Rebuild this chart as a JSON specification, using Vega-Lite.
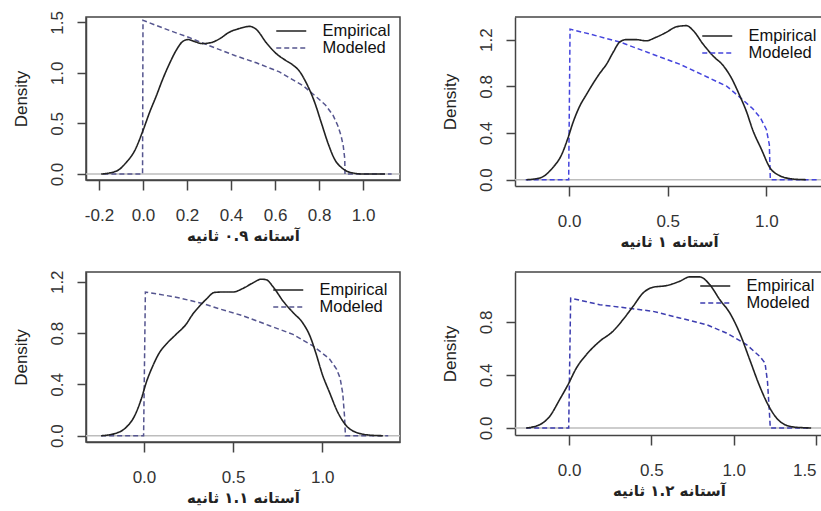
{
  "$schema": "https://vega.github.io/schema/vega-lite/v6.json",
  "background": "white",
  "padding": {"left": 11, "top": 9, "right": 0, "bottom": 0},
  "columns": 2,
  "align": "none",
  "bounds": "flush",
  "spacing": {"column": 115, "row": 86},
  "resolve": {"scale": {"color": "independent", "strokeDash": "independent"}},
  "datasets": {
    "p1": [
      {"type": "Empirical", "x": -0.19, "y": 0}, {"type": "Empirical", "x": -0.12, "y": 0.03}, {"type": "Empirical", "x": -0.076, "y": 0.115}, {"type": "Empirical", "x": -0.038, "y": 0.23}, {"type": "Empirical", "x": 0, "y": 0.43}, {"type": "Empirical", "x": 0.03, "y": 0.61}, {"type": "Empirical", "x": 0.06, "y": 0.77}, {"type": "Empirical", "x": 0.09, "y": 0.94}, {"type": "Empirical", "x": 0.12, "y": 1.09}, {"type": "Empirical", "x": 0.15, "y": 1.22}, {"type": "Empirical", "x": 0.18, "y": 1.31}, {"type": "Empirical", "x": 0.205, "y": 1.33}, {"type": "Empirical", "x": 0.235, "y": 1.31}, {"type": "Empirical", "x": 0.27, "y": 1.29}, {"type": "Empirical", "x": 0.31, "y": 1.3}, {"type": "Empirical", "x": 0.35, "y": 1.34}, {"type": "Empirical", "x": 0.39, "y": 1.4}, {"type": "Empirical", "x": 0.44, "y": 1.44}, {"type": "Empirical", "x": 0.485, "y": 1.46}, {"type": "Empirical", "x": 0.515, "y": 1.43}, {"type": "Empirical", "x": 0.56, "y": 1.3}, {"type": "Empirical", "x": 0.606, "y": 1.19}, {"type": "Empirical", "x": 0.644, "y": 1.13}, {"type": "Empirical", "x": 0.68, "y": 1.08}, {"type": "Empirical", "x": 0.71, "y": 1.02}, {"type": "Empirical", "x": 0.74, "y": 0.91}, {"type": "Empirical", "x": 0.78, "y": 0.71}, {"type": "Empirical", "x": 0.81, "y": 0.51}, {"type": "Empirical", "x": 0.84, "y": 0.31}, {"type": "Empirical", "x": 0.87, "y": 0.15}, {"type": "Empirical", "x": 0.91, "y": 0.05}, {"type": "Empirical", "x": 0.955, "y": 0.01}, {"type": "Empirical", "x": 1.0, "y": 0}, {"type": "Empirical", "x": 1.1, "y": 0},
      {"type": "Modeled", "x": -0.18, "y": 0}, {"type": "Modeled", "x": -0.002, "y": 0}, {"type": "Modeled", "x": 0.0, "y": 1.52}, {"type": "Modeled", "x": 0.06, "y": 1.47}, {"type": "Modeled", "x": 0.12, "y": 1.42}, {"type": "Modeled", "x": 0.21, "y": 1.35}, {"type": "Modeled", "x": 0.3, "y": 1.27}, {"type": "Modeled", "x": 0.42, "y": 1.17}, {"type": "Modeled", "x": 0.515, "y": 1.1}, {"type": "Modeled", "x": 0.62, "y": 1.01}, {"type": "Modeled", "x": 0.73, "y": 0.87}, {"type": "Modeled", "x": 0.8, "y": 0.74}, {"type": "Modeled", "x": 0.83, "y": 0.68}, {"type": "Modeled", "x": 0.864, "y": 0.58}, {"type": "Modeled", "x": 0.885, "y": 0.48}, {"type": "Modeled", "x": 0.9, "y": 0.38}, {"type": "Modeled", "x": 0.91, "y": 0.28}, {"type": "Modeled", "x": 0.917, "y": 0.15}, {"type": "Modeled", "x": 0.918, "y": 0}, {"type": "Modeled", "x": 1.13, "y": 0}
    ],
    "p2": [
      {"type": "Empirical", "x": -0.216, "y": 0}, {"type": "Empirical", "x": -0.149, "y": 0.014}, {"type": "Empirical", "x": -0.081, "y": 0.106}, {"type": "Empirical", "x": -0.039, "y": 0.21}, {"type": "Empirical", "x": -0.005, "y": 0.36}, {"type": "Empirical", "x": 0.02, "y": 0.49}, {"type": "Empirical", "x": 0.054, "y": 0.63}, {"type": "Empirical", "x": 0.088, "y": 0.73}, {"type": "Empirical", "x": 0.12, "y": 0.82}, {"type": "Empirical", "x": 0.155, "y": 0.91}, {"type": "Empirical", "x": 0.19, "y": 0.99}, {"type": "Empirical", "x": 0.223, "y": 1.09}, {"type": "Empirical", "x": 0.257, "y": 1.18}, {"type": "Empirical", "x": 0.29, "y": 1.2}, {"type": "Empirical", "x": 0.34, "y": 1.2}, {"type": "Empirical", "x": 0.39, "y": 1.19}, {"type": "Empirical", "x": 0.44, "y": 1.22}, {"type": "Empirical", "x": 0.49, "y": 1.26}, {"type": "Empirical", "x": 0.544, "y": 1.31}, {"type": "Empirical", "x": 0.595, "y": 1.32}, {"type": "Empirical", "x": 0.628, "y": 1.28}, {"type": "Empirical", "x": 0.68, "y": 1.16}, {"type": "Empirical", "x": 0.73, "y": 1.06}, {"type": "Empirical", "x": 0.78, "y": 0.98}, {"type": "Empirical", "x": 0.82, "y": 0.88}, {"type": "Empirical", "x": 0.865, "y": 0.72}, {"type": "Empirical", "x": 0.9, "y": 0.58}, {"type": "Empirical", "x": 0.93, "y": 0.43}, {"type": "Empirical", "x": 0.975, "y": 0.26}, {"type": "Empirical", "x": 1.017, "y": 0.106}, {"type": "Empirical", "x": 1.068, "y": 0.034}, {"type": "Empirical", "x": 1.135, "y": 0.006}, {"type": "Empirical", "x": 1.2, "y": 0},
      {"type": "Modeled", "x": -0.22, "y": 0}, {"type": "Modeled", "x": -0.002, "y": 0}, {"type": "Modeled", "x": 0.005, "y": 1.29}, {"type": "Modeled", "x": 0.1, "y": 1.25}, {"type": "Modeled", "x": 0.257, "y": 1.18}, {"type": "Modeled", "x": 0.4, "y": 1.09}, {"type": "Modeled", "x": 0.56, "y": 0.99}, {"type": "Modeled", "x": 0.7, "y": 0.88}, {"type": "Modeled", "x": 0.8, "y": 0.8}, {"type": "Modeled", "x": 0.856, "y": 0.72}, {"type": "Modeled", "x": 0.93, "y": 0.61}, {"type": "Modeled", "x": 0.97, "y": 0.53}, {"type": "Modeled", "x": 1.0, "y": 0.43}, {"type": "Modeled", "x": 1.015, "y": 0.3}, {"type": "Modeled", "x": 1.02, "y": 0}, {"type": "Modeled", "x": 1.255, "y": 0}
    ],
    "p3": [
      {"type": "Empirical", "x": -0.24, "y": 0}, {"type": "Empirical", "x": -0.155, "y": 0.02}, {"type": "Empirical", "x": -0.1, "y": 0.065}, {"type": "Empirical", "x": -0.052, "y": 0.156}, {"type": "Empirical", "x": -0.015, "y": 0.286}, {"type": "Empirical", "x": 0.013, "y": 0.415}, {"type": "Empirical", "x": 0.05, "y": 0.545}, {"type": "Empirical", "x": 0.088, "y": 0.65}, {"type": "Empirical", "x": 0.125, "y": 0.714}, {"type": "Empirical", "x": 0.18, "y": 0.79}, {"type": "Empirical", "x": 0.237, "y": 0.87}, {"type": "Empirical", "x": 0.275, "y": 0.95}, {"type": "Empirical", "x": 0.312, "y": 1.01}, {"type": "Empirical", "x": 0.35, "y": 1.065}, {"type": "Empirical", "x": 0.396, "y": 1.117}, {"type": "Empirical", "x": 0.443, "y": 1.12}, {"type": "Empirical", "x": 0.5, "y": 1.12}, {"type": "Empirical", "x": 0.555, "y": 1.148}, {"type": "Empirical", "x": 0.61, "y": 1.19}, {"type": "Empirical", "x": 0.658, "y": 1.22}, {"type": "Empirical", "x": 0.686, "y": 1.216}, {"type": "Empirical", "x": 0.723, "y": 1.163}, {"type": "Empirical", "x": 0.78, "y": 1.05}, {"type": "Empirical", "x": 0.836, "y": 0.96}, {"type": "Empirical", "x": 0.89, "y": 0.88}, {"type": "Empirical", "x": 0.93, "y": 0.78}, {"type": "Empirical", "x": 0.966, "y": 0.636}, {"type": "Empirical", "x": 1.0, "y": 0.48}, {"type": "Empirical", "x": 1.04, "y": 0.34}, {"type": "Empirical", "x": 1.088, "y": 0.18}, {"type": "Empirical", "x": 1.135, "y": 0.078}, {"type": "Empirical", "x": 1.19, "y": 0.026}, {"type": "Empirical", "x": 1.265, "y": 0.005}, {"type": "Empirical", "x": 1.34, "y": 0},
      {"type": "Modeled", "x": -0.24, "y": 0}, {"type": "Modeled", "x": -0.002, "y": 0}, {"type": "Modeled", "x": 0.008, "y": 1.12}, {"type": "Modeled", "x": 0.18, "y": 1.08}, {"type": "Modeled", "x": 0.33, "y": 1.03}, {"type": "Modeled", "x": 0.42, "y": 0.99}, {"type": "Modeled", "x": 0.555, "y": 0.935}, {"type": "Modeled", "x": 0.705, "y": 0.857}, {"type": "Modeled", "x": 0.836, "y": 0.79}, {"type": "Modeled", "x": 0.948, "y": 0.7}, {"type": "Modeled", "x": 1.04, "y": 0.6}, {"type": "Modeled", "x": 1.08, "y": 0.52}, {"type": "Modeled", "x": 1.1, "y": 0.45}, {"type": "Modeled", "x": 1.115, "y": 0.33}, {"type": "Modeled", "x": 1.125, "y": 0.15}, {"type": "Modeled", "x": 1.13, "y": 0}, {"type": "Modeled", "x": 1.37, "y": 0}
    ],
    "p4": [
      {"type": "Empirical", "x": -0.26, "y": 0}, {"type": "Empirical", "x": -0.178, "y": 0.025}, {"type": "Empirical", "x": -0.117, "y": 0.088}, {"type": "Empirical", "x": -0.057, "y": 0.214}, {"type": "Empirical", "x": -0.006, "y": 0.327}, {"type": "Empirical", "x": 0.045, "y": 0.453}, {"type": "Empirical", "x": 0.105, "y": 0.553}, {"type": "Empirical", "x": 0.186, "y": 0.654}, {"type": "Empirical", "x": 0.267, "y": 0.73}, {"type": "Empirical", "x": 0.328, "y": 0.818}, {"type": "Empirical", "x": 0.389, "y": 0.918}, {"type": "Empirical", "x": 0.45, "y": 1.019}, {"type": "Empirical", "x": 0.51, "y": 1.062}, {"type": "Empirical", "x": 0.59, "y": 1.074}, {"type": "Empirical", "x": 0.672, "y": 1.107}, {"type": "Empirical", "x": 0.733, "y": 1.14}, {"type": "Empirical", "x": 0.794, "y": 1.14}, {"type": "Empirical", "x": 0.854, "y": 1.082}, {"type": "Empirical", "x": 0.915, "y": 0.969}, {"type": "Empirical", "x": 0.976, "y": 0.868}, {"type": "Empirical", "x": 1.036, "y": 0.717}, {"type": "Empirical", "x": 1.097, "y": 0.516}, {"type": "Empirical", "x": 1.158, "y": 0.314}, {"type": "Empirical", "x": 1.219, "y": 0.151}, {"type": "Empirical", "x": 1.28, "y": 0.05}, {"type": "Empirical", "x": 1.36, "y": 0.008}, {"type": "Empirical", "x": 1.47, "y": 0},
      {"type": "Modeled", "x": -0.26, "y": 0}, {"type": "Modeled", "x": -0.002, "y": 0}, {"type": "Modeled", "x": 0.01, "y": 0.98}, {"type": "Modeled", "x": 0.186, "y": 0.93}, {"type": "Modeled", "x": 0.348, "y": 0.906}, {"type": "Modeled", "x": 0.51, "y": 0.88}, {"type": "Modeled", "x": 0.672, "y": 0.83}, {"type": "Modeled", "x": 0.834, "y": 0.78}, {"type": "Modeled", "x": 0.955, "y": 0.717}, {"type": "Modeled", "x": 1.077, "y": 0.63}, {"type": "Modeled", "x": 1.158, "y": 0.54}, {"type": "Modeled", "x": 1.19, "y": 0.49}, {"type": "Modeled", "x": 1.205, "y": 0.35}, {"type": "Modeled", "x": 1.215, "y": 0.15}, {"type": "Modeled", "x": 1.222, "y": 0}, {"type": "Modeled", "x": 1.47, "y": 0}
    ]
  },
  "concat": [
    {
      "width": 314, "height": 163,
      "view": {"stroke": "#444", "strokeWidth": 1.5},
      "data": {"name": "p1"},
      "layer": [
        {"data": {"values": [{}]}, "mark": {"type": "rule", "color": "#bdbdbd", "strokeWidth": 1.5}, "encoding": {"y": {"datum": 0}}},
        {"transform": [{"filter": "datum.type === 'Modeled'"}], "mark": {"type": "line", "strokeWidth": 1.5},
         "encoding": {
          "x": {"field": "x", "type": "quantitative", "scale": {"domain": [-0.259, 1.168], "zero": false, "nice": false}, "axis": {"values": [-0.2, 0, 0.2, 0.4, 0.6, 0.8, 1.0], "labelExpr": "datum.value < 0 ? '-' + format(-datum.value, '.1f') : format(datum.value, '.1f')", "title": "آستانه ۰.۹ ثانیه"}},
          "y": {"field": "y", "type": "quantitative", "scale": {"domain": [-0.059, 1.553], "zero": false, "nice": false}, "axis": {"values": [0, 0.5, 1, 1.5], "labelExpr": "format(datum.value, '.1f')", "title": "Density"}},
          "color": {"field": "type", "type": "nominal", "scale": {"domain": ["Empirical", "Modeled"], "range": ["#222222", "#55558f"]}, "legend": {"title": null, "orient": "none", "legendX": 187, "legendY": 5.75}},
          "strokeDash": {"field": "type", "type": "nominal", "scale": {"domain": ["Empirical", "Modeled"], "range": [[1, 0], [5, 3]]}, "legend": {"title": null, "orient": "none", "legendX": 187, "legendY": 5.75}}
         }},
        {"transform": [{"filter": "datum.type === 'Empirical'"}], "mark": {"type": "line", "strokeWidth": 1.6, "interpolate": "monotone"},
         "encoding": {
          "x": {"field": "x", "type": "quantitative", "scale": {"domain": [-0.259, 1.168], "zero": false, "nice": false}, "axis": {"values": [-0.2, 0, 0.2, 0.4, 0.6, 0.8, 1.0], "labelExpr": "datum.value < 0 ? '-' + format(-datum.value, '.1f') : format(datum.value, '.1f')", "title": "آستانه ۰.۹ ثانیه"}},
          "y": {"field": "y", "type": "quantitative", "scale": {"domain": [-0.059, 1.553], "zero": false, "nice": false}, "axis": {"values": [0, 0.5, 1, 1.5], "labelExpr": "format(datum.value, '.1f')", "title": "Density"}},
          "color": {"field": "type", "type": "nominal", "scale": {"domain": ["Empirical", "Modeled"], "range": ["#222222", "#55558f"]}, "legend": {"title": null, "orient": "none", "legendX": 187, "legendY": 5.75}},
          "strokeDash": {"field": "type", "type": "nominal", "scale": {"domain": ["Empirical", "Modeled"], "range": [[1, 0], [5, 3]]}, "legend": {"title": null, "orient": "none", "legendX": 187, "legendY": 5.75}}
         }}
      ]
    },
    {
      "width": 308, "height": 169,
      "view": {"stroke": null},
      "data": {"name": "p2"},
      "layer": [
        {"data": {"values": [{}]}, "mark": {"type": "rule", "color": "#bdbdbd", "strokeWidth": 1.5}, "encoding": {"y": {"datum": 0}}},
        {"data": {"values": [{}]}, "mark": {"type": "rule", "color": "#444", "strokeWidth": 1.5}, "encoding": {"y": {"datum": 1.394}}},
        {"transform": [{"filter": "datum.type === 'Modeled'"}], "mark": {"type": "line", "strokeWidth": 1.5},
         "encoding": {
          "x": {"field": "x", "type": "quantitative", "scale": {"domain": [-0.274, 1.287], "zero": false, "nice": false}, "axis": {"values": [0, 0.5, 1.0], "labelExpr": "format(datum.value, '.1f')", "title": "آستانه ۱ ثانیه"}},
          "y": {"field": "y", "type": "quantitative", "scale": {"domain": [-0.054, 1.394], "zero": false, "nice": false}, "axis": {"values": [0, 0.2, 0.4, 0.6, 0.8, 1.0, 1.2], "labelExpr": "round(datum.value * 10) % 4 == 0 ? format(datum.value, '.1f') : ''", "title": "Density"}},
          "color": {"field": "type", "type": "nominal", "scale": {"domain": ["Empirical", "Modeled"], "range": ["#222222", "#4545dd"]}, "legend": {"title": null, "orient": "none", "legendX": 184, "legendY": 10.75}},
          "strokeDash": {"field": "type", "type": "nominal", "scale": {"domain": ["Empirical", "Modeled"], "range": [[1, 0], [5, 3]]}, "legend": {"title": null, "orient": "none", "legendX": 184, "legendY": 10.75}}
         }},
        {"transform": [{"filter": "datum.type === 'Empirical'"}], "mark": {"type": "line", "strokeWidth": 1.6, "interpolate": "monotone"},
         "encoding": {
          "x": {"field": "x", "type": "quantitative", "scale": {"domain": [-0.274, 1.287], "zero": false, "nice": false}, "axis": {"values": [0, 0.5, 1.0], "labelExpr": "format(datum.value, '.1f')", "title": "آستانه ۱ ثانیه"}},
          "y": {"field": "y", "type": "quantitative", "scale": {"domain": [-0.054, 1.394], "zero": false, "nice": false}, "axis": {"values": [0, 0.2, 0.4, 0.6, 0.8, 1.0, 1.2], "labelExpr": "round(datum.value * 10) % 4 == 0 ? format(datum.value, '.1f') : ''", "title": "Density"}},
          "color": {"field": "type", "type": "nominal", "scale": {"domain": ["Empirical", "Modeled"], "range": ["#222222", "#4545dd"]}, "legend": {"title": null, "orient": "none", "legendX": 184, "legendY": 10.75}},
          "strokeDash": {"field": "type", "type": "nominal", "scale": {"domain": ["Empirical", "Modeled"], "range": [[1, 0], [5, 3]]}, "legend": {"title": null, "orient": "none", "legendX": 184, "legendY": 10.75}}
         }}
      ]
    },
    {
      "width": 314, "height": 170,
      "view": {"stroke": "#444", "strokeWidth": 1.5},
      "data": {"name": "p3"},
      "layer": [
        {"data": {"values": [{}]}, "mark": {"type": "rule", "color": "#bdbdbd", "strokeWidth": 1.5}, "encoding": {"y": {"datum": 0}}},
        {"transform": [{"filter": "datum.type === 'Modeled'"}], "mark": {"type": "line", "strokeWidth": 1.5},
         "encoding": {
          "x": {"field": "x", "type": "quantitative", "scale": {"domain": [-0.325, 1.436], "zero": false, "nice": false}, "axis": {"values": [0, 0.5, 1.0], "labelExpr": "format(datum.value, '.1f')", "title": "آستانه ۱.۱ ثانیه"}},
          "y": {"field": "y", "type": "quantitative", "scale": {"domain": [-0.049, 1.276], "zero": false, "nice": false}, "axis": {"values": [0, 0.2, 0.4, 0.6, 0.8, 1.0, 1.2], "labelExpr": "round(datum.value * 10) % 4 == 0 ? format(datum.value, '.1f') : ''", "title": "Density"}},
          "color": {"field": "type", "type": "nominal", "scale": {"domain": ["Empirical", "Modeled"], "range": ["#222222", "#55558f"]}, "legend": {"title": null, "orient": "none", "legendX": 184, "legendY": 9.75}},
          "strokeDash": {"field": "type", "type": "nominal", "scale": {"domain": ["Empirical", "Modeled"], "range": [[1, 0], [5, 3]]}, "legend": {"title": null, "orient": "none", "legendX": 184, "legendY": 9.75}}
         }},
        {"transform": [{"filter": "datum.type === 'Empirical'"}], "mark": {"type": "line", "strokeWidth": 1.6, "interpolate": "monotone"},
         "encoding": {
          "x": {"field": "x", "type": "quantitative", "scale": {"domain": [-0.325, 1.436], "zero": false, "nice": false}, "axis": {"values": [0, 0.5, 1.0], "labelExpr": "format(datum.value, '.1f')", "title": "آستانه ۱.۱ ثانیه"}},
          "y": {"field": "y", "type": "quantitative", "scale": {"domain": [-0.049, 1.276], "zero": false, "nice": false}, "axis": {"values": [0, 0.2, 0.4, 0.6, 0.8, 1.0, 1.2], "labelExpr": "round(datum.value * 10) % 4 == 0 ? format(datum.value, '.1f') : ''", "title": "Density"}},
          "color": {"field": "type", "type": "nominal", "scale": {"domain": ["Empirical", "Modeled"], "range": ["#222222", "#55558f"]}, "legend": {"title": null, "orient": "none", "legendX": 184, "legendY": 9.75}},
          "strokeDash": {"field": "type", "type": "nominal", "scale": {"domain": ["Empirical", "Modeled"], "range": [[1, 0], [5, 3]]}, "legend": {"title": null, "orient": "none", "legendX": 184, "legendY": 9.75}}
         }}
      ]
    },
    {
      "width": 308, "height": 163,
      "view": {"stroke": null},
      "data": {"name": "p4"},
      "layer": [
        {"data": {"values": [{}]}, "mark": {"type": "rule", "color": "#bdbdbd", "strokeWidth": 1.5}, "encoding": {"y": {"datum": 0}}},
        {"data": {"values": [{}]}, "mark": {"type": "rule", "color": "#444", "strokeWidth": 1.5}, "encoding": {"y": {"datum": 1.177}}},
        {"transform": [{"filter": "datum.type === 'Modeled'"}], "mark": {"type": "line", "strokeWidth": 1.5},
         "encoding": {
          "x": {"field": "x", "type": "quantitative", "scale": {"domain": [-0.328, 1.542], "zero": false, "nice": false}, "axis": {"values": [0, 0.5, 1.0, 1.5], "labelFlush": 10, "labelExpr": "format(datum.value, '.1f')", "title": "آستانه ۱.۲ ثانیه"}},
          "y": {"field": "y", "type": "quantitative", "scale": {"domain": [-0.053, 1.177], "zero": false, "nice": false}, "axis": {"values": [0, 0.2, 0.4, 0.6, 0.8, 1.0], "labelExpr": "round(datum.value * 10) % 4 == 0 ? format(datum.value, '.1f') : ''", "title": "Density"}},
          "color": {"field": "type", "type": "nominal", "scale": {"domain": ["Empirical", "Modeled"], "range": ["#222222", "#3d3db0"]}, "legend": {"title": null, "orient": "none", "legendX": 182, "legendY": 5.75}},
          "strokeDash": {"field": "type", "type": "nominal", "scale": {"domain": ["Empirical", "Modeled"], "range": [[1, 0], [5, 3]]}, "legend": {"title": null, "orient": "none", "legendX": 182, "legendY": 5.75}}
         }},
        {"transform": [{"filter": "datum.type === 'Empirical'"}], "mark": {"type": "line", "strokeWidth": 1.6, "interpolate": "monotone"},
         "encoding": {
          "x": {"field": "x", "type": "quantitative", "scale": {"domain": [-0.328, 1.542], "zero": false, "nice": false}, "axis": {"values": [0, 0.5, 1.0, 1.5], "labelFlush": 10, "labelExpr": "format(datum.value, '.1f')", "title": "آستانه ۱.۲ ثانیه"}},
          "y": {"field": "y", "type": "quantitative", "scale": {"domain": [-0.053, 1.177], "zero": false, "nice": false}, "axis": {"values": [0, 0.2, 0.4, 0.6, 0.8, 1.0], "labelExpr": "round(datum.value * 10) % 4 == 0 ? format(datum.value, '.1f') : ''", "title": "Density"}},
          "color": {"field": "type", "type": "nominal", "scale": {"domain": ["Empirical", "Modeled"], "range": ["#222222", "#3d3db0"]}, "legend": {"title": null, "orient": "none", "legendX": 182, "legendY": 5.75}},
          "strokeDash": {"field": "type", "type": "nominal", "scale": {"domain": ["Empirical", "Modeled"], "range": [[1, 0], [5, 3]]}, "legend": {"title": null, "orient": "none", "legendX": 182, "legendY": 5.75}}
         }}
      ]
    }
  ],
  "config": {
    "axis": {"grid": false, "domainColor": "#444", "domainWidth": 1.5, "tickColor": "#444", "tickWidth": 1.5, "labelFont": "Liberation Sans", "labelFontSize": 17, "labelColor": "#333", "titleColor": "#222"},
    "axisX": {"tickSize": 10, "labelPadding": 17, "labelAngle": 0, "titleFont": "DejaVu Sans", "titleFontSize": 15, "titleFontWeight": "bold", "titlePadding": 5},
    "axisY": {"tickSize": 9, "labelAngle": 270, "labelAlign": "center", "labelBaseline": "bottom", "labelPadding": 11, "titleFont": "Liberation Sans", "titleFontSize": 17, "titleFontWeight": "normal", "titlePadding": 18},
    "legend": {"symbolType": "M-1,0H5", "symbolSize": 100, "symbolStrokeWidth": 1.5, "labelFont": "Liberation Sans", "labelFontSize": 16.5, "labelColor": "#111", "labelOffset": 33, "rowPadding": 0, "padding": 0}
  }
}
